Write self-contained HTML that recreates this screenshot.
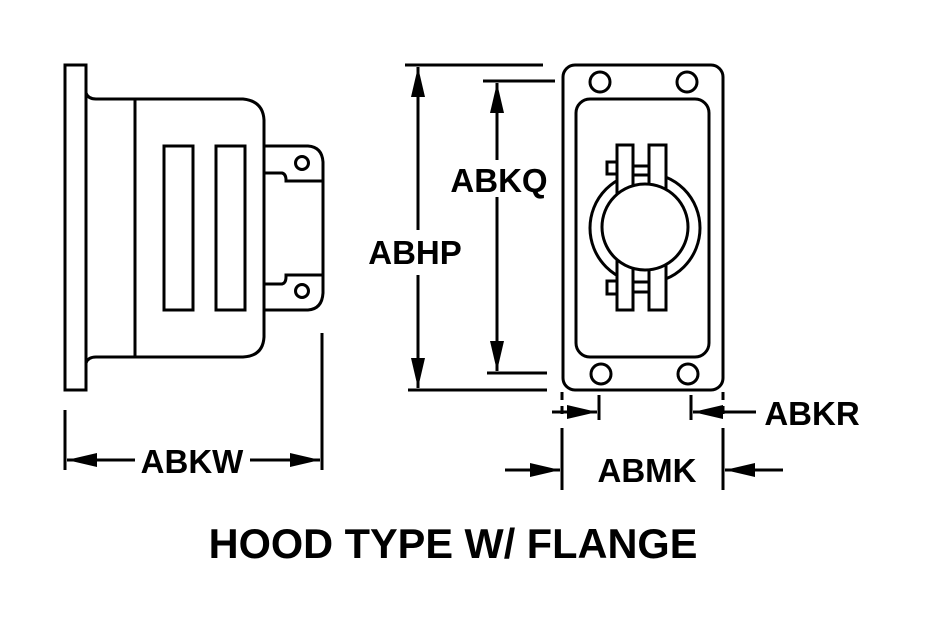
<!DOCTYPE html>
<html><head><style>html,body{margin:0;padding:0;background:#fff}svg{display:block}</style></head>
<body>
<svg width="930" height="630" viewBox="0 0 930 630" xmlns="http://www.w3.org/2000/svg">
<defs>
<marker id="a" viewBox="0 0 30 14" refX="30" refY="7" markerWidth="30" markerHeight="14" markerUnits="userSpaceOnUse" orient="auto"><path d="M0,0 L30,7 L0,14 Z" fill="#000"/></marker>
</defs>
<g fill="none" stroke="#000" stroke-width="3">
<rect x="65" y="65" width="21" height="325" fill="#fff"/>
<path d="M86,93 Q88,99 96,99 L243,99 Q263,101 264,120 L264,337 Q263,356 243,357 L96,357 Q88,357 86,363"/>
<line x1="135" y1="99" x2="135" y2="357"/>
<rect x="164" y="146" width="29" height="164"/>
<rect x="216" y="146" width="29" height="164"/>
<path d="M264,146 L308,146 Q322,147 323,162 L323,293 Q322,309 308,310 L264,310"/>
<path d="M264,173 L282,173 Q286,174 286,180 L286,181 L323,181"/>
<path d="M264,284 L282,284 Q286,283 286,277 L286,275 L323,275"/>
<circle cx="302" cy="163" r="6.5"/>
<circle cx="302" cy="291" r="6.5"/>
<line x1="322" y1="333" x2="322" y2="470"/>
<line x1="65" y1="410" x2="65" y2="470"/>
<line x1="135" y1="460" x2="67" y2="460" marker-end="url(#a)"/>
<line x1="250" y1="460" x2="320" y2="460" marker-end="url(#a)"/>
<rect x="563" y="65" width="160" height="325" rx="12"/>
<rect x="576" y="99" width="133" height="258" rx="14"/>
<circle cx="600" cy="82" r="10"/><circle cx="687" cy="82" r="10"/>
<circle cx="601" cy="374" r="10"/><circle cx="688" cy="374" r="10"/>
<circle cx="645" cy="228" r="55" fill="#fff"/>
<rect x="607" y="162" width="11" height="12" fill="#fff"/>
<rect x="607" y="281" width="11" height="13" fill="#fff"/>
<rect x="617" y="145" width="16" height="165" fill="#fff"/>
<rect x="649" y="145" width="17" height="165" fill="#fff"/>
<rect x="633" y="166" width="16" height="9" fill="#fff"/>
<rect x="633" y="282" width="16" height="10" fill="#fff"/>
<circle cx="645" cy="227" r="43" fill="#fff"/>
<line x1="405" y1="65" x2="543" y2="65"/>
<line x1="408" y1="390" x2="547" y2="390"/>
<line x1="483" y1="81" x2="555" y2="81"/>
<line x1="487" y1="373" x2="547" y2="373"/>
<line x1="418" y1="230" x2="418" y2="67" marker-end="url(#a)"/>
<line x1="418" y1="275" x2="418" y2="388" marker-end="url(#a)"/>
<line x1="497" y1="160" x2="497" y2="83" marker-end="url(#a)"/>
<line x1="497" y1="197" x2="497" y2="371" marker-end="url(#a)"/>
<line x1="562" y1="392" x2="562" y2="420" stroke-dasharray="8,6"/>
<line x1="723" y1="392" x2="723" y2="420" stroke-dasharray="8,6"/>
<line x1="562" y1="428" x2="562" y2="490"/>
<line x1="723" y1="428" x2="723" y2="490"/>
<line x1="599" y1="395" x2="599" y2="420"/>
<line x1="691" y1="395" x2="691" y2="420"/>
<line x1="552" y1="412" x2="597" y2="412" marker-end="url(#a)"/>
<line x1="756" y1="412" x2="693" y2="412" marker-end="url(#a)"/>
<line x1="505" y1="470" x2="560" y2="470" marker-end="url(#a)"/>
<line x1="783" y1="470" x2="725" y2="470" marker-end="url(#a)"/>
</g>
<g font-family="Liberation Sans, Arial, sans-serif" font-weight="bold" font-size="33" fill="#000">
<text x="499" y="192" text-anchor="middle">ABKQ</text>
<text x="415" y="264" text-anchor="middle">ABHP</text>
<text x="192" y="473" text-anchor="middle">ABKW</text>
<text x="812" y="425" text-anchor="middle">ABKR</text>
<text x="647" y="482" text-anchor="middle">ABMK</text>
<text x="453" y="558" text-anchor="middle" font-size="41.5">HOOD TYPE W/ FLANGE</text>
</g>
</svg>
</body></html>
